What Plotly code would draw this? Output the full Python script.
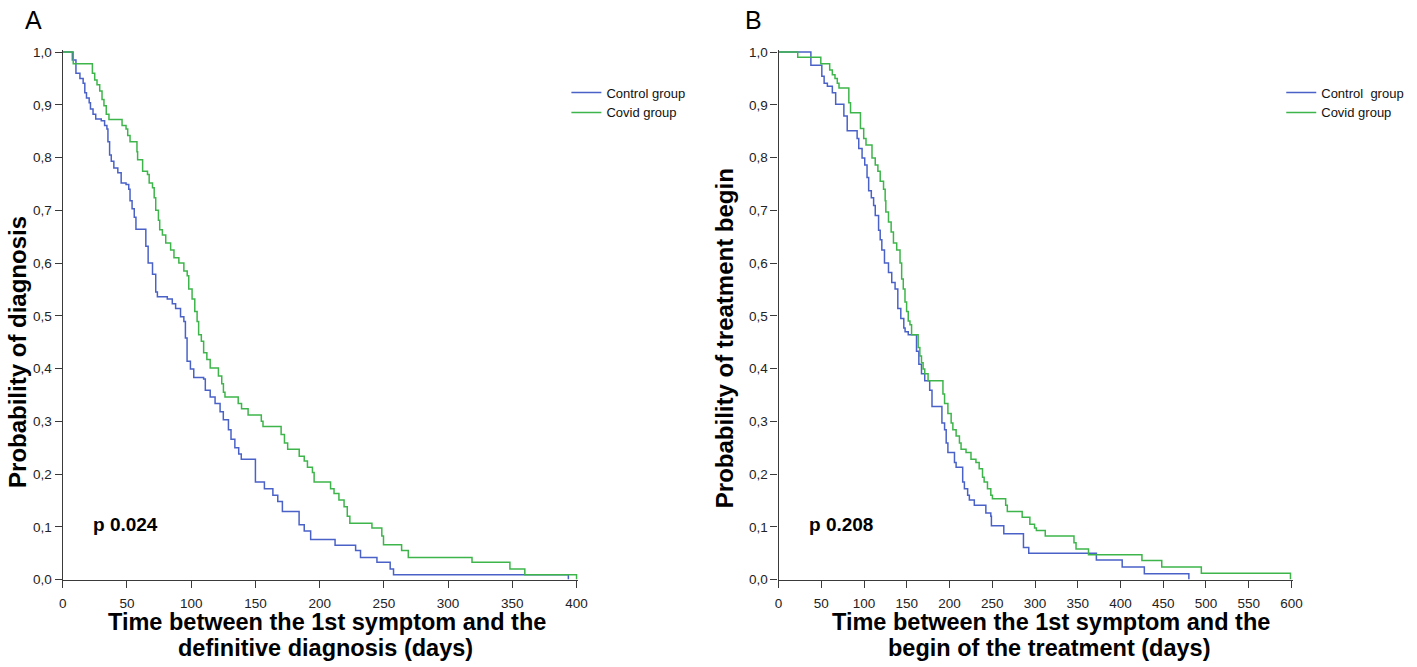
import plotly.graph_objects as go

# ---------------- data ----------------
# Panel A: time from 1st symptom to definitive diagnosis (days) -- Kaplan-Meier steps
diag_control_t = [0, 7.5, 10.3, 13.4, 15.9, 17.2, 18.5, 20.6, 21.6, 23.6, 25.7, 30.0, 32.6, 34.4, 35.2, 36.5,
                  37.8, 39.8, 42.9, 45.5, 49.3, 51.4, 52.4, 54.0, 55.7, 57.0, 64.7, 66.5, 69.9, 72.4, 73.7,
                  81.4, 85.3, 87.9, 91.7, 94.3, 95.5, 96.8, 99.4, 102.0, 109.7, 111.0, 114.8, 118.6, 122.5,
                  125.0, 129.0, 131.0, 134.0, 137.0, 139.0, 150.0, 157.0, 163.6, 167.4, 171.0, 184.0, 188.0,
                  193.0, 212.0, 228.0, 231.8, 244.6, 254.9, 257.5, 393.6]
diag_control_s = [1.0, 0.985, 0.96, 0.95, 0.941, 0.923, 0.913, 0.904, 0.892, 0.882, 0.873, 0.87, 0.861, 0.854,
                  0.83, 0.805, 0.793, 0.78, 0.771, 0.752, 0.749, 0.74, 0.718, 0.703, 0.687, 0.664, 0.632, 0.60,
                  0.579, 0.545, 0.536, 0.532, 0.523, 0.514, 0.498, 0.489, 0.458, 0.414, 0.399, 0.383, 0.38,
                  0.359, 0.346, 0.334, 0.318, 0.303, 0.284, 0.266, 0.25, 0.238, 0.228, 0.185, 0.172, 0.16,
                  0.148, 0.129, 0.104, 0.092, 0.076, 0.065, 0.055, 0.042, 0.033, 0.02, 0.009, 0.0]

diag_covid_t = [0, 8.2, 23.1, 24.9, 26.7, 28.8, 30.6, 32.1, 33.9, 36.0, 46.2, 49.3, 50.6, 52.4, 57.8, 58.3,
                62.2, 66.0, 67.3, 69.9, 71.2, 72.4, 74.5, 75.5, 77.6, 80.2, 84.0, 86.6, 90.4, 94.3, 96.9,
                98.1, 100.7, 102.8, 104.6, 105.8, 107.9, 109.7, 112.2, 114.8, 121.2, 123.8, 125.1, 126.3,
                136.6, 139.2, 144.3, 154.6, 155.9, 170.0, 172.6, 175.1, 184.1, 188.0, 190.5, 194.4, 195.7,
                208.5, 211.2, 215.0, 219.0, 221.5, 223.5, 240.7, 248.4, 249.7, 263.8, 269.0, 318.6, 348.1,
                359.7, 400.0]
diag_covid_s = [1.0, 0.978, 0.96, 0.947, 0.938, 0.926, 0.91, 0.898, 0.882, 0.872, 0.861, 0.854, 0.842, 0.83,
                0.811, 0.796, 0.774, 0.768, 0.752, 0.743, 0.724, 0.70, 0.681, 0.663, 0.653, 0.638, 0.625,
                0.61, 0.60, 0.585, 0.576, 0.551, 0.532, 0.508, 0.489, 0.464, 0.452, 0.43, 0.417, 0.401,
                0.386, 0.371, 0.355, 0.346, 0.334, 0.324, 0.312, 0.30, 0.29, 0.275, 0.259, 0.247, 0.234,
                0.225, 0.213, 0.203, 0.185, 0.172, 0.163, 0.151, 0.138, 0.12, 0.107, 0.098, 0.0825, 0.066,
                0.055, 0.042, 0.033, 0.02, 0.009, 0.0]

# Panel B: time from 1st symptom to beginning of treatment (days)
treat_control_t = [0, 37.8, 50.6, 53.3, 57.1, 62.9, 66.8, 76.4, 80.3, 91.9, 93.8, 97.7, 100.8, 103.5, 105.4,
                   108.5, 111.2, 113.1, 117.0, 118.9, 120.8, 123.9, 128.6, 132.4, 136.3, 139.5, 143.0, 146.5,
                   148.0, 151.7, 161.4, 164.1, 167.2, 171.0, 176.8, 179.5, 191.1, 194.2, 196.1, 198.1, 205.8,
                   207.7, 215.4, 217.4, 221.2, 223.2, 229.0, 242.5, 248.3, 249.0, 263.5, 286.5, 292.7, 371.8,
                   402.0, 427.9, 480.0]
treat_control_s = [1.0, 0.975, 0.954, 0.941, 0.935, 0.923, 0.901, 0.879, 0.851, 0.836, 0.817, 0.799, 0.786,
                   0.762, 0.737, 0.724, 0.709, 0.69, 0.662, 0.644, 0.625, 0.60, 0.582, 0.563, 0.551, 0.514,
                   0.495, 0.477, 0.47, 0.464, 0.433, 0.408, 0.39, 0.377, 0.359, 0.328, 0.297, 0.284, 0.259,
                   0.241, 0.222, 0.213, 0.185, 0.172, 0.16, 0.151, 0.141, 0.126, 0.12, 0.102, 0.087, 0.061,
                   0.05, 0.037, 0.024, 0.011, 0.0]

treat_covid_t = [0, 22.4, 49.4, 59.8, 62.9, 66.0, 68.7, 70.7, 82.2, 84.2, 95.8, 99.6, 102.3, 109.3, 113.1,
                 116.2, 118.9, 122.8, 124.7, 125.5, 128.6, 131.7, 134.4, 138.2, 142.1, 144.0, 145.9, 147.9,
                 149.8, 151.7, 153.7, 155.6, 163.3, 165.3, 167.2, 169.1, 171.0, 174.9, 192.3, 194.2, 198.1,
                 201.9, 203.9, 207.7, 211.6, 213.5, 219.3, 225.1, 230.9, 234.7, 238.6, 240.5, 244.4, 248.3,
                 250.2, 265.7, 267.6, 285.0, 294.0, 299.5, 301.6, 312.0, 345.6, 348.0, 362.6, 425.1, 448.3,
                 494.6, 598.9]
treat_covid_s = [1.0, 0.99, 0.978, 0.966, 0.957, 0.95, 0.941, 0.932, 0.904, 0.885, 0.855, 0.836, 0.824,
                 0.799, 0.786, 0.774, 0.755, 0.74, 0.718, 0.697, 0.678, 0.659, 0.638, 0.625, 0.60, 0.57,
                 0.551, 0.526, 0.508, 0.49, 0.483, 0.464, 0.44, 0.424, 0.411, 0.399, 0.39, 0.377, 0.352,
                 0.334, 0.315, 0.297, 0.284, 0.272, 0.259, 0.247, 0.241, 0.228, 0.222, 0.21, 0.194, 0.185,
                 0.172, 0.16, 0.153, 0.141, 0.129, 0.118, 0.105, 0.098, 0.093, 0.0825, 0.07, 0.058, 0.047,
                 0.036, 0.024, 0.012, 0.0]

y_ticks = [0.0, 0.1, 0.2, 0.3, 0.4, 0.5, 0.6, 0.7, 0.8, 0.9, 1.0]
xA_ticks = [0, 50, 100, 150, 200, 250, 300, 350, 400]
xB_ticks = [0, 50, 100, 150, 200, 250, 300, 350, 400, 450, 500, 550, 600]

series_names_A = ["Control group", "Covid group"]
series_names_B = ["Control\u00a0 group", "Covid group"]

# ---------------- styling ----------------
W, H = 1417, 667
FONT = "Liberation Sans, Arial, sans-serif"
BLUE = "#4a62c8"
GREEN = "#3db54a"
AXC = "#3a3a3a"

fig = go.Figure()

fig.add_trace(go.Scatter(x=diag_control_t, y=diag_control_s, mode="lines", line_shape="hv",
                         line=dict(color=BLUE, width=1.5), name=series_names_A[0],
                         xaxis="x", yaxis="y", legend="legend"))
fig.add_trace(go.Scatter(x=diag_covid_t, y=diag_covid_s, mode="lines", line_shape="hv",
                         line=dict(color=GREEN, width=1.5), name=series_names_A[1],
                         xaxis="x", yaxis="y", legend="legend"))
fig.add_trace(go.Scatter(x=treat_control_t, y=treat_control_s, mode="lines", line_shape="hv",
                         line=dict(color=BLUE, width=1.5), name=series_names_B[0],
                         xaxis="x2", yaxis="y2", legend="legend2"))
fig.add_trace(go.Scatter(x=treat_covid_t, y=treat_covid_s, mode="lines", line_shape="hv",
                         line=dict(color=GREEN, width=1.5), name=series_names_B[1],
                         xaxis="x2", yaxis="y2", legend="legend2"))

# pixel geometry
yb, yt = 586.0, 48.0           # y=0 and y=1 pixel rows
ypp = (yb - yt)                # pixels per 1.0
y_top_val = 1.004
ydom = [1 - yb / H, 1 - (yb - y_top_val * ypp) / H]

ax0, axs = 59.3, 1.2975         # panel A x origin / px per day
bx0, bxs = 782.3, 0.8633        # panel B
xa_max, xb_max = 401, 602

axis_common = dict(showline=True, linecolor=AXC, linewidth=1.3, ticks="outside", ticklen=7,
                   tickwidth=1.3, tickcolor=AXC, showgrid=False, zeroline=False,
                   tickfont=dict(family=FONT, size=13.5, color="#222"), fixedrange=True)

fig.update_layout(
    width=W, height=H, margin=dict(l=0, r=0, t=0, b=0),
    paper_bgcolor="white", plot_bgcolor="white",
    separators=",.",
    font=dict(family=FONT, color="#111"),
    xaxis=dict(domain=[ax0 / W, (ax0 + xa_max * axs) / W], range=[0, xa_max], tickvals=xA_ticks,
               anchor="y", ticklabelstandoff=4, **axis_common),
    yaxis=dict(domain=ydom, range=[0, y_top_val], tickvals=y_ticks, tickformat=".1f", anchor="x",
               **axis_common),
    xaxis2=dict(domain=[bx0 / W, (bx0 + xb_max * bxs) / W], range=[0, xb_max], tickvals=xB_ticks,
                anchor="y2", ticklabelstandoff=4, **axis_common),
    yaxis2=dict(domain=ydom, range=[0, y_top_val], tickvals=y_ticks, tickformat=".1f", anchor="x2",
                **axis_common),
    legend=dict(x=568 / W, y=1 - 74 / H, xanchor="left", yanchor="top", bgcolor="rgba(0,0,0,0)",
                font=dict(family=FONT, size=13, color="#111"), itemwidth=30, tracegroupgap=0),
    legend2=dict(x=1290 / W, y=1 - 74 / H, xanchor="left", yanchor="top", bgcolor="rgba(0,0,0,0)",
                 font=dict(family=FONT, size=13, color="#111"), itemwidth=30, tracegroupgap=0),
    showlegend=True,
)

def pa(x, y, text, size, bold=False, angle=0, xanchor="center", yanchor="middle"):
    fig.add_annotation(x=x / W, y=1 - y / H, xref="paper", yref="paper", text=text, showarrow=False,
                       textangle=angle, xanchor=xanchor, yanchor=yanchor,
                       font=dict(family=FONT, size=size, color="#000",
                                 weight="bold" if bold else "normal"))

# panel letters
pa(30, 15, "A", 25)
pa(757, 15, "B", 25)

# y-axis titles
pa(13, 354, "Probability of diagnosis", 24, bold=True, angle=-90)
pa(728, 340, "Probability of treatment begin", 24, bold=True, angle=-90)

# x-axis titles (two lines each)
pa(326, 629, "Time between the 1st symptom and the", 23.5, bold=True)
pa(325, 656, "definitive diagnosis (days)", 23.5, bold=True)
pa(1057, 629, "Time between the 1st symptom and the", 23.5, bold=True)
pa(1056, 656, "begin of the treatment (days)", 23.5, bold=True)

# p-values in data coordinates
fig.add_annotation(x=22, y=0.104, xref="x", yref="y", text="p 0.024", showarrow=False, xanchor="left",
                   font=dict(family=FONT, size=19, color="#000", weight="bold"))
fig.add_annotation(x=33, y=0.104, xref="x2", yref="y2", text="p 0.208", showarrow=False, xanchor="left",
                   font=dict(family=FONT, size=19, color="#000", weight="bold"))

fig.write_html("out.html", config={"displayModeBar": False},
               post_script="document.body.style.margin='0';")
